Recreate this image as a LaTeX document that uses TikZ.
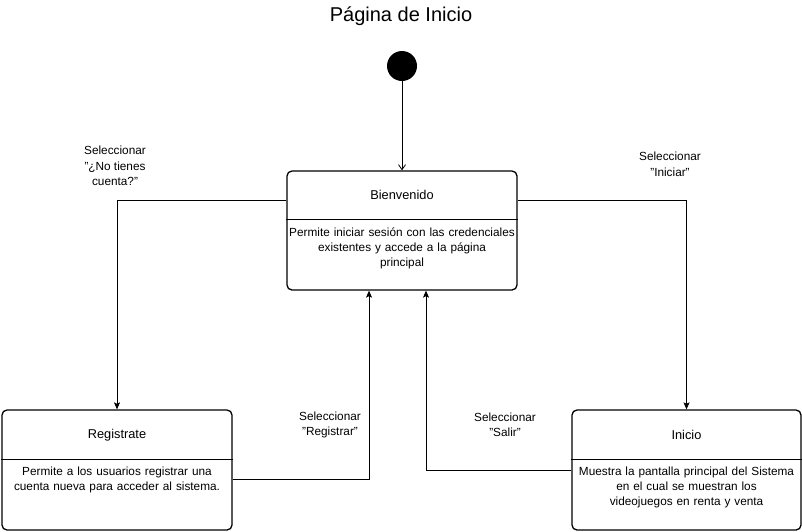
\documentclass[tikz,border=0pt]{standalone}
\usepackage{fontspec}
\setmainfont{Liberation Sans}[Ligatures=ResetAll]
\usetikzlibrary{arrows.meta,calc}
\begin{document}
\begin{tikzpicture}[x=1pt,y=-1pt,
  statebox/.style={draw,line width=1.3pt,rounded corners=5pt,minimum width=230pt,inner sep=0pt},
  divline/.style={line width=1pt},
  stitle/.style={font=\fontsize{12.8}{14}\selectfont,inner sep=0pt},
  sbody/.style={font=\fontsize{11.8}{15}\selectfont,align=center,inner sep=0pt,text width=240pt},
  lbl/.style={font=\fontsize{11.8}{15.5}\selectfont,align=center,inner sep=0pt},
  conn/.style={line width=0.8pt,-{Stealth[length=7pt,width=6pt,inset=1.5pt]}},
  openconn/.style={line width=0.8pt,-{Straight Barb[length=5pt,width=7pt]}}]
\useasboundingbox (0,0) rectangle (802,531);
\node[font=\fontsize{20}{22}\selectfont,inner sep=0pt] (title) at (401,16) {Página de Inicio};
\node[circle,fill=black,minimum size=30pt,inner sep=0pt] (init) at (402,66) {};
% Bienvenido
\node[statebox,minimum height=119pt] (b) at (402,230.5) {};
\draw[divline] ($(b.north west)+(0,49.5)$) -- ($(b.north east)+(0,49.5)$);
\node[stitle] (bt) at (402,195) {Bienvenido};
\node[sbody] (bb) at (402,248) {Permite iniciar sesión con las credenciales\\existentes y accede a la página\\principal};
% Registrate
\node[statebox,minimum height=120pt] (r) at (117,470) {};
\draw[divline] ($(r.north west)+(0,50.5)$) -- ($(r.north east)+(0,50.5)$);
\node[stitle] (rt) at (117,435) {Registrate};
\node[sbody] (rb) at (117,479.5) {Permite a los usuarios registrar una\\cuenta nueva para acceder al sistema.};
% Inicio
\node[statebox,minimum height=120pt,minimum width=229pt] (i) at (686.5,470) {};
\draw[divline] ($(i.north west)+(0,50.5)$) -- ($(i.north east)+(0,50.5)$);
\node[stitle] (it) at (686.5,435) {Inicio};
\node[sbody] (ib) at (686.5,487) {Muestra la pantalla principal del Sistema\\en el cual se muestran los\\videojuegos en renta y venta};
% connectors
\draw[openconn] (init) -- (b.north);
\draw[conn] ($(b.north west)+(0,30)$) -| (r.north);
\draw[conn] ($(b.north east)+(0,30)$) -| (i.north);
\coordinate (rx) at (369,479);
\draw[conn] (r.east |- rx) -| (b.south -| rx);
\coordinate (sx) at (426,470);
\draw[conn] (i.west |- sx) -| (b.south -| sx);
% labels
\node[lbl] (l1) at (115,166) {Seleccionar\\"¿No tienes\\cuenta?"};
\node[lbl] (l2) at (670,164.5) {Seleccionar\\"Iniciar"};
\node[lbl] (l3) at (330,425) {Seleccionar\\"Registrar"};
\node[lbl] (l4) at (505,425) {Seleccionar\\"Salir"};
\end{tikzpicture}
\end{document}
